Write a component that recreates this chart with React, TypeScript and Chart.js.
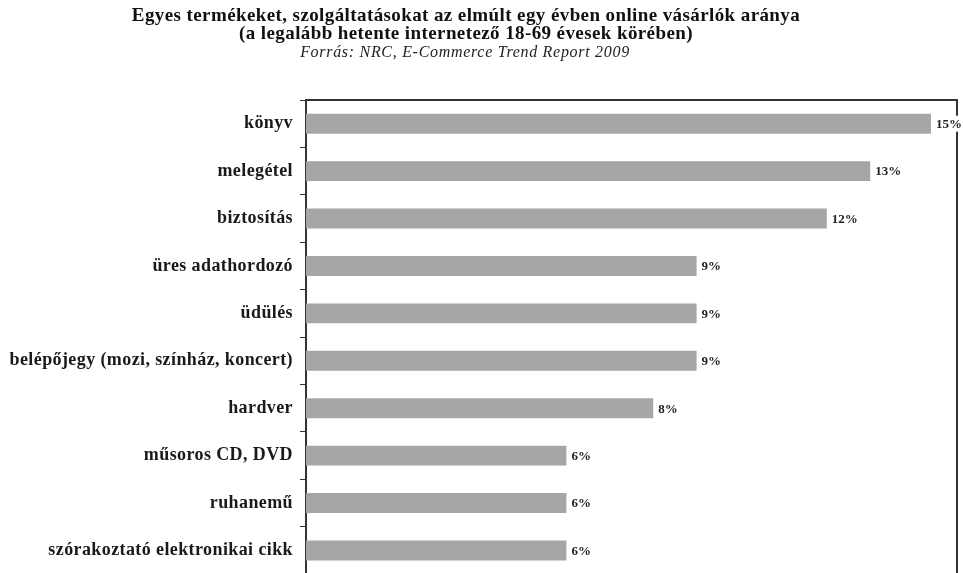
import React, { useEffect, useRef } from "react";
import { Chart, registerables } from "chart.js";

Chart.register(...registerables);

const categories = [
  "könyv",
  "melegétel",
  "biztosítás",
  "üres adathordozó",
  "üdülés",
  "belépőjegy (mozi, színház, koncert)",
  "hardver",
  "műsoros CD, DVD",
  "ruhanemű",
  "szórakoztató elektronikai cikk",
];
const values = [14.4, 13, 12, 9, 9, 9, 8, 6, 6, 6];
const valueLabels = ["15%", "13%", "12%", "9%", "9%", "9%", "8%", "6%", "6%", "6%"];
const titleLines = [
  "Egyes termékeket, szolgáltatásokat az elmúlt egy évben online vásárlók aránya",
  "(a legalább hetente internetező 18-69 évesek körében)",
];
const sourceLine = "Forrás: NRC, E-Commerce Trend Report 2009";

const SERIF = "'Liberation Serif', 'Times New Roman', serif";

const framePlugin = {
  id: "frameAndLabels",
  beforeInit(chart: any) {
    chart.ctx.letterSpacing = "0.4px";
  },
  beforeUpdate(chart: any) {
    chart.ctx.letterSpacing = "0.4px";
  },
  beforeDraw(chart: any) {
    chart.ctx.letterSpacing = "0.4px";
  },
  afterDatasetsDraw(chart: any) {
    const { ctx, chartArea } = chart;
    const { left, right, top, bottom } = chartArea;
    ctx.save();
    ctx.strokeStyle = "#333";
    ctx.lineWidth = 2;
    ctx.beginPath();
    ctx.moveTo(left, top);
    ctx.lineTo(right, top);
    ctx.lineTo(right, bottom);
    ctx.stroke();

    const meta = chart.getDatasetMeta(0);
    ctx.letterSpacing = "0px";
    ctx.font = `bold 13px ${SERIF}`;
    ctx.textBaseline = "middle";
    ctx.textAlign = "left";
    meta.data.forEach((bar: any, i: number) => {
      const txt = valueLabels[i];
      const x = bar.x + 5;
      const w = ctx.measureText(txt).width;
      ctx.fillStyle = "#ffffff";
      ctx.fillRect(x - 1, bar.y - 8, w + 2, 16);
      ctx.fillStyle = "#222";
      ctx.fillText(txt, x, bar.y + 1);
    });
    ctx.restore();
  },
  afterDraw(chart: any) {
    const { ctx } = chart;
    ctx.save();
    ctx.textAlign = "center";
    ctx.textBaseline = "alphabetic";
    ctx.fillStyle = "#111";
    ctx.font = `bold 19px ${SERIF}`;
    ctx.letterSpacing = "0.4px";
    ctx.fillText(titleLines[0], 466, 21);
    ctx.fillText(titleLines[1], 466, 39);
    ctx.font = `italic 16px ${SERIF}`;
    ctx.letterSpacing = "0.7px";
    ctx.fillStyle = "#222";
    ctx.fillText(sourceLine, 465, 57);
    ctx.restore();
  },
};

export default function App() {
  const ref = useRef<HTMLCanvasElement | null>(null);
  useEffect(() => {
    if (!ref.current) return;
    const chart = new Chart(ref.current, {
      type: "bar",
      data: {
        labels: categories,
        datasets: [
          {
            data: values,
            backgroundColor: "#a6a6a6",
            borderWidth: 0,
            categoryPercentage: 1,
            barPercentage: 0.42,
          },
        ],
      },
      options: {
        indexAxis: "y",
        animation: false,
        responsive: false,
        layout: { padding: { top: 100, left: 0, right: 6, bottom: 6 } },
        plugins: {
          legend: { display: false },
          tooltip: { enabled: false },
          title: { display: false },
        },
        scales: {
          x: {
            display: false,
            min: 0,
            max: 15,
          },
          y: {
            afterFit: (scale: any) => {
              scale.width = 306;
            },
            grid: {
              display: true,
              drawOnChartArea: false,
              drawTicks: true,
              tickLength: 6,
              color: "#333",
              offset: true,
            },
            border: { display: true, color: "#333", width: 2 },
            ticks: {
              padding: 7,
              color: "#1a1a1a",
              font: { family: SERIF, size: 18, weight: "bold" },
            },
          },
        },
      },
      plugins: [framePlugin],
    } as any);
    return () => chart.destroy();
  }, []);
  return (
    <div style={{ position: "fixed", left: 0, top: 0, width: 963, height: 592 }}>
      <canvas ref={ref} width={963} height={592} style={{ display: "block" }} />
    </div>
  );
}
